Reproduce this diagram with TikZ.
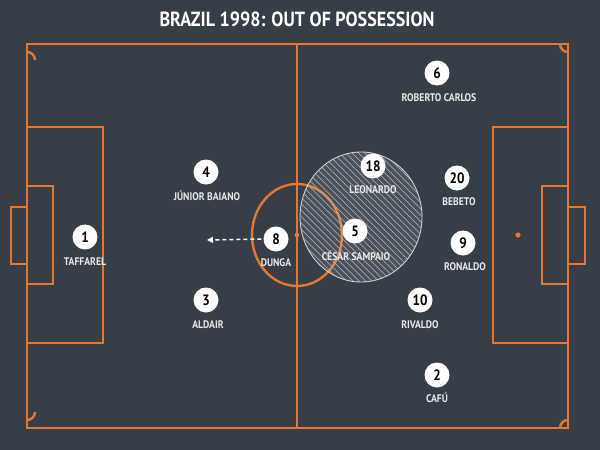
\documentclass[tikz,border=0pt]{standalone}
\usepackage{fontspec}
\newfontfamily\din{PT Sans}[FakeStretch=0.88]
\usetikzlibrary{patterns.meta,arrows.meta}
\definecolor{bg}{HTML}{363E48}
\definecolor{pitch}{HTML}{E8772E}
\definecolor{lbl}{HTML}{E8E8E8}
\tikzset{
  pline/.style={draw=pitch, line width=2.4pt},
  player/.style={circle, fill=white, minimum size=25pt, inner sep=0pt, font=\din\bfseries\fontsize{15}{15}\selectfont, text=black},
  pname/.style={font=\din\bfseries\fontsize{11}{11}\selectfont, text=lbl, inner sep=0pt},
}
\begin{document}
\begin{tikzpicture}[x=1pt,y=-1pt]
\fill[bg] (0,0) rectangle (600,450);
\useasboundingbox (0,0) rectangle (600,450);
% title
\node[font=\din\bfseries\fontsize{20.5}{21}\selectfont, text=white] (title) at (297,19) {BRAZIL 1998: OUT OF POSSESSION};
% pitch
\draw[pline] (27,44) rectangle (568,428);
\draw[pline] (297,44) -- (297,428);
\draw[pline] (27,127) rectangle (103,343);
\draw[pline] (27,186) rectangle (53,284);
\draw[pline] (27,207) rectangle (11,264);
\draw[pline] (568,127) rectangle (493,343);
\draw[pline] (568,186) rectangle (542,284);
\draw[pline] (568,207) rectangle (585,264);
\draw[pline] (297,235) ellipse [x radius=45, y radius=51];
\fill[pitch] (297,235) circle (2.4);
\fill[pitch] (518,235) circle (2.6);
\fill[pitch] (77,235) circle (2.6);
\draw[pline] (27,52) arc[start angle=-90, end angle=0, radius=8];
\draw[pline] (560,44) arc[start angle=180, end angle=90, radius=8];
\draw[pline] (27,420) arc[start angle=90, end angle=0, radius=8];
\draw[pline] (560,428) arc[start angle=180, end angle=270, radius=8];
% zone
\fill[white, opacity=0.10] (361,217) ellipse [x radius=61, y radius=65];
\fill[pattern={Lines[angle=-45, distance=4.5pt, line width=0.7pt]}, pattern color=white!55!bg] (361,217) ellipse [x radius=61, y radius=65];
\draw[white!75!bg, line width=0.9pt] (361,217) ellipse [x radius=61, y radius=65];
% players
\node[player] (p6) at (437,73) {6};
\node[pname] (n6) at (439,98) {ROBERTO CARLOS};
\node[player] (p4) at (206,172) {4};
\node[pname] (n4) at (207,196) {JÚNIOR BAIANO};
\node[player] (p18) at (373,166) {18};
\node[pname] (n18) at (373,190) {LEONARDO};
\node[player] (p20) at (457,178) {20};
\node[pname] (n20) at (459,202) {BEBETO};
\node[player] (p1) at (85,237) {1};
\node[pname] (n1) at (85,262) {TAFFAREL};
\node[player] (p8) at (276,239) {8};
\node[pname] (n8) at (276,263) {DUNGA};
\node[player] (p5) at (355,231) {5};
\node[pname] (n5) at (356,256) {CÉSAR SAMPAIO};
\node[player] (p9) at (463,243) {9};
\node[pname] (n9) at (465,267) {RONALDO};
\node[player] (p3) at (206,300) {3};
\node[pname] (n3) at (208,325) {ALDAIR};
\node[player] (p10) at (420,300) {10};
\node[pname] (n10) at (420,325) {RIVALDO};
\node[player] (p2) at (437,375) {2};
\node[pname] (n2) at (437,398) {CAFÚ};
% arrow
\coordinate (a) at (207,240);
\draw[white, line width=1.5pt, dash pattern=on 4pt off 3pt, -{Triangle[length=6pt,width=6pt]}] (p8.west) ++(-2,0) -- (a);
\end{tikzpicture}
\end{document}
